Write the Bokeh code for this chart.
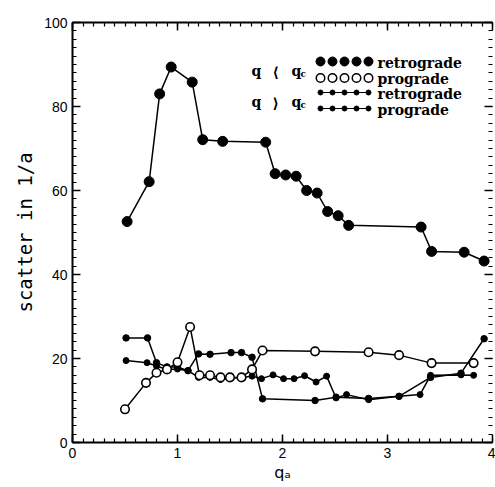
from bokeh.plotting import figure
from bokeh.models import LinearAxis, Range1d, Label, FixedTicker
from bokeh.embed import file_html
from bokeh.resources import INLINE

# q < q_c, retrograde (large filled circles)
qa_lt_ret = [0.52, 0.73, 0.83, 0.94, 1.14, 1.24, 1.43, 1.84, 1.93, 2.03, 2.13, 2.23,
             2.33, 2.43, 2.53, 2.63, 3.32, 3.42, 3.73, 3.92]
sc_lt_ret = [52.6, 62.1, 83.0, 89.4, 85.8, 72.1, 71.7, 71.5, 64.0, 63.7, 63.4, 60.0,
             59.4, 55.0, 54.0, 51.7, 51.3, 45.5, 45.3, 43.2]

# q < q_c, prograde (open circles)
qa_lt_pro = [0.50, 0.70, 0.80, 0.90, 1.00, 1.12, 1.21, 1.31, 1.41, 1.50, 1.61, 1.71,
             1.81, 2.31, 2.82, 3.11, 3.42, 3.82]
sc_lt_pro = [7.9, 14.2, 16.6, 17.4, 19.1, 27.5, 16.0, 16.0, 15.5, 15.5, 15.5, 17.4,
             21.9, 21.7, 21.5, 20.8, 18.9, 18.9]

# q > q_c, retrograde (small filled)
qa_gt_ret = [0.51, 0.71, 0.80, 0.90, 1.00, 1.10, 1.20, 1.31, 1.41, 1.50, 1.61, 1.71,
             1.80, 1.91, 2.01, 2.11, 2.21, 2.32, 2.42, 2.51, 2.61, 2.82, 3.11, 3.31,
             3.41, 3.70, 3.82]
sc_gt_ret = [19.5, 19.0, 18.2, 17.4, 17.5, 17.1, 15.5, 15.5, 15.0, 15.3, 15.5, 15.8,
             15.2, 16.1, 15.2, 15.2, 15.9, 14.4, 15.8, 10.6, 11.4, 10.2, 11.0, 11.4,
             16.0, 16.1, 16.0]

# q > q_c, prograde (small filled)
qa_gt_pro = [0.51, 0.715, 0.80, 0.90, 1.00, 1.10, 1.20, 1.31, 1.51, 1.61, 1.71, 1.81,
             2.31, 2.51, 2.82, 3.11, 3.41, 3.70, 3.92]
sc_gt_pro = [24.9, 24.9, 19.0, 18.0, 18.0, 17.1, 21.1, 21.0, 21.4, 21.4, 20.3, 10.4,
             10.0, 10.8, 10.5, 11.0, 15.5, 16.5, 24.7]

x_ticks = [0, 1, 2, 3, 4]
y_ticks = [0, 20, 40, 60, 80, 100]
legend_labels = ["retrograde", "prograde", "retrograde", "prograde"]

p = figure(width=495, height=487, output_backend="svg", toolbar_location=None,
           x_range=Range1d(0, 4), y_range=Range1d(0, 100),
           x_axis_label="qₐ", y_axis_label="scatter in 1/a",
           min_border_left=72, min_border_right=3, min_border_top=22, min_border_bottom=45)
p.outline_line_color = None
p.xgrid.visible = False
p.ygrid.visible = False
p.background_fill_color = "white"

xa = p.xaxis[0]
ya = p.yaxis[0]
x_minor = [i / 10 for i in range(41)]
y_minor = [i * 2 for i in range(51)]
xa.ticker = FixedTicker(ticks=x_ticks, minor_ticks=x_minor)
ya.ticker = FixedTicker(ticks=y_ticks, minor_ticks=y_minor)

top = LinearAxis(ticker=FixedTicker(ticks=x_ticks, minor_ticks=x_minor),
                 major_label_overrides={t: "" for t in x_ticks})
right = LinearAxis(ticker=FixedTicker(ticks=y_ticks, minor_ticks=y_minor),
                   major_label_overrides={t: "" for t in y_ticks})
p.add_layout(top, "above")
p.add_layout(right, "right")

for ax in [xa, ya, top, right]:
    ax.major_tick_in = 8
    ax.major_tick_out = 0
    ax.minor_tick_in = 4
    ax.minor_tick_out = 0
    ax.axis_line_width = 2
    ax.major_tick_line_width = 1.5
    ax.minor_tick_line_width = 1.2
    ax.axis_line_color = "black"
    ax.major_tick_line_color = "black"
    ax.minor_tick_line_color = "black"
    ax.major_label_text_font = "Liberation Sans"
    ax.major_label_text_color = "black"
    ax.major_label_text_font_size = "14px"
right.axis_line_color = None

for ax in [xa, ya]:
    ax.major_label_standoff = 5
    ax.axis_label_text_font_style = "normal"
    ax.axis_label_text_color = "black"

xa.axis_label_text_font = "DejaVu Sans"
xa.axis_label_text_font_size = "16px"
xa.axis_label_standoff = 2
ya.axis_label_text_font = "DejaVu Sans Mono"
ya.axis_label_text_font_size = "19px"
ya.axis_label_standoff = 5

# data series
p.line(qa_lt_ret, sc_lt_ret, line_color="black", line_width=1.5)
p.scatter(qa_lt_ret, sc_lt_ret, size=10, marker="circle", fill_color="black", line_color="black")

p.line(qa_gt_ret, sc_gt_ret, line_color="black", line_width=1.5)
p.scatter(qa_gt_ret, sc_gt_ret, size=6, marker="circle", fill_color="black", line_color="black")

p.line(qa_gt_pro, sc_gt_pro, line_color="black", line_width=1.5)
p.scatter(qa_gt_pro, sc_gt_pro, size=6.5, marker="circle", fill_color="black", line_color="black")

p.line(qa_lt_pro, sc_lt_pro, line_color="black", line_width=1.5)
p.scatter(qa_lt_pro, sc_lt_pro, size=8.5, marker="circle", fill_color="white",
          line_color="black", line_width=1.6)


# legend: positions given in canvas pixels, converted to data units
def dx(px):
    return (px - 72) / 105


def dy(py):
    return (442 - py) / 4.2


serif = "DejaVu Serif"
rows_py = [61, 77.5, 92, 108]
mx = [320, 332, 344, 356, 368]
styles = [dict(size=9, fill="black", lw=1), dict(size=8.5, fill="white", lw=1.5),
          dict(size=5, fill="black", lw=1), dict(size=5, fill="black", lw=1)]
for ry, st, lab in zip(rows_py, styles, legend_labels):
    xs = [dx(m) for m in mx]
    ys = [dy(ry)] * len(mx)
    if st["size"] < 8:
        p.line(xs, ys, line_color="black", line_width=1.2)
    p.scatter(xs, ys, size=st["size"], marker="circle", fill_color=st["fill"],
              line_color="black", line_width=st["lw"])
    p.add_layout(Label(x=dx(377), y=dy(ry + 1), text=lab,
                       text_font=serif, text_font_style="bold", text_font_size="14px",
                       text_baseline="middle", text_color="black"))

for ty, br in [(70, "⟨"), (101, "⟩")]:
    p.add_layout(Label(x=dx(251), y=dy(ty), text="q", text_color="black",
                       text_font=serif, text_font_style="bold", text_font_size="14px",
                       text_baseline="middle"))
    p.add_layout(Label(x=dx(272), y=dy(ty + 1), text=br, text_color="black",
                       text_font="DejaVu Sans", text_font_style="bold", text_font_size="14px",
                       text_baseline="middle"))
    p.add_layout(Label(x=dx(291), y=dy(ty), text="q", text_color="black",
                       text_font=serif, text_font_style="bold", text_font_size="14px",
                       text_baseline="middle"))
    p.add_layout(Label(x=dx(300), y=dy(ty + 3), text="c", text_color="black",
                       text_font=serif, text_font_style="bold", text_font_size="9px",
                       text_baseline="middle"))

open("out.html", "w").write(file_html(p, INLINE))
